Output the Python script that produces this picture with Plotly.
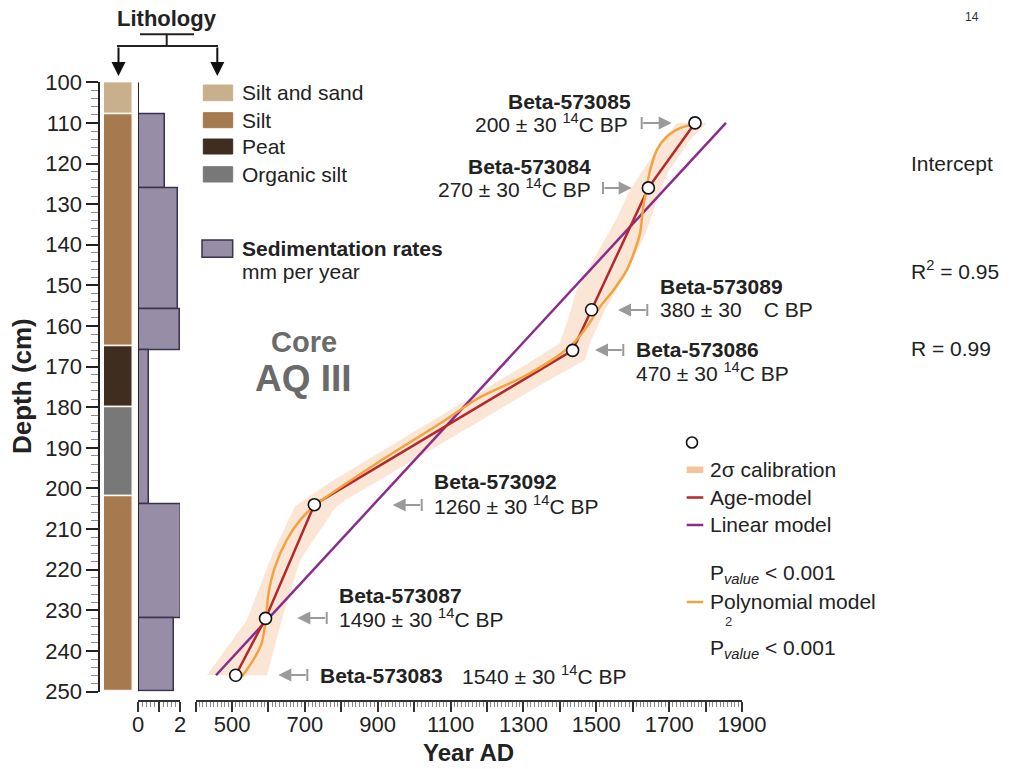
import plotly.graph_objects as go

# ---------------- DATA ----------------
litho_names = ["Silt and sand", "Silt", "Peat", "Organic silt", "Silt"]
litho_top = [100, 108, 165, 180, 202]
litho_bottom = [108, 165, 180, 202, 250]
litho_colors = ["#C9B08C", "#A6794E", "#3F2D20", "#787878", "#A6794E"]

sed_top = [108, 126, 156, 166, 204, 232]
sed_bottom = [126, 156, 166, 204, 232, 250]
sed_rate = [1.3, 1.9, 2.0, 0.5, 2.05, 1.7]

lab_ids = ["Beta-573085", "Beta-573084", "Beta-573089", "Beta-573086",
           "Beta-573092", "Beta-573087", "Beta-573083"]
age_bp = [200, 270, 380, 470, 1260, 1490, 1540]
age_err = [30, 30, 30, 30, 30, 30, 30]
date_depth = [110, 126, 156, 166, 204, 232, 246]
date_year = [1771, 1643, 1487, 1435, 726, 592, 510]

linear_year = [456, 1856]
linear_depth = [246, 110]

poly_year = [527, 558, 581, 593, 600, 618, 650, 687, 726, 906, 1071, 1176, 1300,
             1391, 1437, 1474, 1510, 1547, 1584, 1606, 1620, 1629, 1638, 1648,
             1666, 1693, 1730, 1766]
poly_depth = [246.4, 242.3, 238.2, 232.2, 225.9, 219.3, 212.7, 207.8, 204.3, 193.3,
              184.0, 177.8, 172.5, 167.6, 164.3, 160.2, 155.3, 151.2, 146.2, 141.3,
              137.2, 130.6, 126.1, 121.6, 116.7, 113.4, 111.3, 110.3]

band_year = [431, 541, 612, 673, 769, 961, 1153, 1345, 1400, 1422, 1444, 1488, 1551,
             1592, 1647, 1721, 1804, 1757, 1697, 1667, 1634, 1579, 1524, 1483, 1469,
             1345, 1153, 961, 810, 783, 687, 637, 596]
band_depth = [246.0, 232.4, 215.9, 204.4, 198.5, 188.1, 177.8, 167.4, 164.2, 158.5,
              151.7, 144.3, 134.4, 126.5, 119.1, 110.0, 110.0, 114.2, 122.1, 129.0,
              137.6, 147.5, 156.1, 164.0, 168.4, 174.6, 184.9, 195.0, 202.9, 204.8,
              217.6, 232.2, 246.0]

depth_ticks = list(range(100, 251, 10))
year_ticks = list(range(400, 1901, 100))
year_labels = [str(v) if (v - 500) % 200 == 0 else "" for v in year_ticks]

# ---------------- LAYOUT HELPERS ----------------
W, H = 1010, 769
FONT = "Arial, Liberation Sans, sans-serif"
TXT = "#222222"
PURPLE = "#8B2C8C"
RED = "#B3282D"
ORANGE = "#F2A23E"
BAND = "rgba(248,210,180,0.55)"
GRAYARROW = "#9A9A9A"


def px(x):
    return x / W


def py(y):
    return 1 - y / H


fig = go.Figure()

# lithology column
fig.add_trace(go.Bar(
    x=[0.5] * len(litho_top),
    y=[b - t for t, b in zip(litho_top, litho_bottom)],
    base=litho_top, width=1,
    marker=dict(color=litho_colors, line=dict(color="#FFF8F0", width=1.5)),
    xaxis="x3", yaxis="y", hoverinfo="skip"))

# sedimentation rates
fig.add_trace(go.Bar(
    y=[(t + b) / 2 for t, b in zip(sed_top, sed_bottom)],
    x=sed_rate, width=[b - t for t, b in zip(sed_top, sed_bottom)],
    base=0, orientation="h",
    marker=dict(color="#978DA6", line=dict(color="#3B3150", width=1.5)),
    xaxis="x2", yaxis="y", hoverinfo="skip"))

# 2 sigma calibration band
fig.add_trace(go.Scatter(x=band_year, y=band_depth, fill="toself", fillcolor=BAND,
                         line=dict(width=0), mode="lines", xaxis="x", yaxis="y",
                         hoverinfo="skip"))
# linear model
fig.add_trace(go.Scatter(x=linear_year, y=linear_depth, mode="lines",
                         line=dict(color=PURPLE, width=2.5), xaxis="x", yaxis="y"))
# age model
fig.add_trace(go.Scatter(x=date_year, y=date_depth, mode="lines",
                         line=dict(color=RED, width=2.5), xaxis="x", yaxis="y"))
# polynomial model
fig.add_trace(go.Scatter(x=poly_year, y=poly_depth, mode="lines",
                         line=dict(color=ORANGE, width=2.5, shape="spline", smoothing=0.8),
                         xaxis="x", yaxis="y"))
# dates
fig.add_trace(go.Scatter(x=date_year, y=date_depth, mode="markers",
                         marker=dict(size=12, color="white", line=dict(color="#111", width=1.6)),
                         xaxis="x", yaxis="y", cliponaxis=False))

tickfont = dict(family=FONT, size=22, color=TXT)

fig.update_layout(
    template="none",
    width=W, height=H, autosize=False,
    margin=dict(l=0, r=0, t=0, b=0, pad=0, autoexpand=False),
    paper_bgcolor="white", plot_bgcolor="rgba(0,0,0,0)",
    showlegend=False, barmode="overlay", bargap=0,
    font=dict(family=FONT, color=TXT),
    yaxis=dict(domain=[py(691.5), py(82.3)], range=[250, 100], anchor="free",
               position=px(99.3), showline=True, linecolor="#222", linewidth=2,
               automargin=False,
               ticks="outside", tickvals=depth_ticks, ticklen=12, tickwidth=2,
               tickcolor="#222", tickfont=tickfont, showgrid=False, zeroline=False,
               minor=dict(ticks="outside", dtick=2, ticklen=7, tickcolor="#8a8a8a",
                          tickwidth=1, showgrid=False)),
    xaxis=dict(domain=[px(195.6), px(742)], range=[400, 1900], anchor="free",
               position=py(701), showline=True, linecolor="#333", linewidth=1.5,
               automargin=False, ticklabelstandoff=-6,
               ticks="outside", tickvals=year_ticks, ticktext=year_labels, ticklen=10,
               tickwidth=1.5, tickcolor="#333", tickfont=tickfont, showgrid=False,
               zeroline=False,
               minor=dict(ticks="outside", dtick=10, ticklen=5, tickcolor="#888",
                          tickwidth=1, showgrid=False)),
    xaxis2=dict(domain=[px(138), px(180)], range=[0, 2], anchor="free",
                position=py(701), showline=True, linecolor="#333", linewidth=1.5,
                automargin=False, ticklabelstandoff=-6,
                ticks="outside", tickvals=[0, 1, 2], ticktext=["0", "", "2"],
                ticklen=10, tickwidth=1.5, tickcolor="#333", tickfont=tickfont,
                showgrid=False, zeroline=False,
                minor=dict(ticks="outside", dtick=0.2, ticklen=5, tickcolor="#888",
                           tickwidth=1, showgrid=False)),
    xaxis3=dict(domain=[px(104), px(133)], range=[0, 1], anchor="free",
                position=py(701), visible=False, automargin=False),
)

shapes = []
annots = []

# sed panel left line
shapes.append(dict(type="line", xref="x2", yref="y", x0=0, x1=0, y0=100, y1=250,
                   line=dict(color="#222", width=2)))


def text(x, y, s, size=21, anchor="left", color=TXT, **kw):
    annots.append(dict(x=px(x), y=py(y), xref="paper", yref="paper", text=s,
                       showarrow=False, xanchor=anchor, yanchor="middle",
                       font=dict(family=FONT, size=size, color=color), **kw))


def hline(x0, x1, y, color="#222", width=2):
    shapes.append(dict(type="line", xref="paper", yref="paper", x0=px(x0), x1=px(x1),
                       y0=py(y), y1=py(y), line=dict(color=color, width=width)))


def vline(x, y0, y1, color="#222", width=2):
    shapes.append(dict(type="line", xref="paper", yref="paper", x0=px(x), x1=px(x),
                       y0=py(y0), y1=py(y1), line=dict(color=color, width=width)))


def arrow(tail, tip, y):
    annots.append(dict(x=px(tip), y=py(y), xref="paper", yref="paper", text="",
                       showarrow=True, ax=tail - tip, ay=0, axref="pixel", ayref="pixel",
                       arrowhead=2, arrowsize=1.3, arrowwidth=2, arrowcolor=GRAYARROW,
                       standoff=0))
    vline(tail, y - 6, y + 6, color=GRAYARROW, width=2)


# Lithology header + bracket
text(167, 18, "<b>Lithology</b>", size=22, anchor="center")
hline(140, 194, 34.3)
vline(166.7, 34.3, 46)
hline(117, 218, 46)
for xa in (118.5, 217.3):
    annots.append(dict(x=px(xa), y=py(76), xref="paper", yref="paper", text="",
                       showarrow=True, ax=0, ay=-30, arrowhead=2, arrowsize=1.4,
                       arrowwidth=2, arrowcolor="#111", standoff=0))

# lithology legend
leg_rows = [(85, 100.7), (112.7, 127.7), (139, 154), (166.7, 182)]
for (y0, y1), name, col in zip(leg_rows, litho_names[:4], litho_colors[:4]):
    shapes.append(dict(type="rect", xref="paper", yref="paper", x0=px(203.3), x1=px(232.7),
                       y0=py(y1), y1=py(y0), fillcolor=col, line=dict(color=col, width=1)))
    text(239.5, (y0 + y1) / 2, name, size=21)
shapes.append(dict(type="rect", xref="paper", yref="paper", x0=px(202), x1=px(232.7),
                   y0=py(257.3), y1=py(240), fillcolor="#978DA6",
                   line=dict(color="#3B3150", width=1.5)))
text(239.5, 249, "<b>Sedimentation rates</b>", size=21)
text(239.5, 271, "mm per year", size=21)

# Core label
text(304, 342, "<b>Core</b>", size=29, anchor="center", color="#6A6A6A")
text(303, 378, "<b>AQ III</b>", size=37, anchor="center", color="#6A6A6A")

# Axis titles
annots.append(dict(x=px(22), y=py(386), xref="paper", yref="paper",
                   text="<b>Depth (cm)</b>", showarrow=False, textangle=-90,
                   xanchor="center", yanchor="middle",
                   font=dict(family=FONT, size=26, color=TXT)))
text(468, 752, "<b>Year AD</b>", size=24, anchor="center")

# date labels
hidden14 = "<sup><span style='color:rgba(0,0,0,0)'>14</span></sup>"


def age_text(i, hide=False):
    sup = hidden14 if hide else "<sup>14</sup>"
    return f"{age_bp[i]} ± {age_err[i]} {sup}C BP"


label_pos = [
    # (bold x, bold y, anchor, age x, age y, tail, tip, arrow y)
    (633, 101.7, "right", 630, 123.3, 641.7, 671.7, 123),
    (593, 166.7, "right", 593, 188.3, 603, 631.7, 188),
    (658.3, 286.7, "left", 658.3, 308.3, 647.3, 618, 310),
    (634, 349.3, "left", 634, 371.7, 623.3, 595, 350),
    (431.7, 481.7, "left", 431.7, 505, 421.7, 392.7, 505),
    (337.3, 595, "left", 337.3, 618.3, 326.7, 297.3, 618),
    (318.3, 675, "left", 460, 675, 307.3, 278.3, 675),
]
for i, (bx, by, anc, tx, ty, tail, tip, ay) in enumerate(label_pos):
    text(bx, by, f"<b>{lab_ids[i]}</b>", size=21, anchor=anc)
    text(tx, ty, age_text(i, hide=(i == 2)), size=21, anchor=anc)
    arrow(tail, tip, ay)

# stray superscript
text(972, 17, "14", size=12, anchor="center", color="#333")

# right side stats
text(909, 163, "Intercept", size=21)
text(909, 270, "R<sup>2</sup> = 0.95", size=21)
text(909, 349, "R = 0.99", size=21)

# model legend
shapes.append(dict(type="circle", xref="paper", yref="paper", x0=px(686.5), x1=px(697.5),
                   y0=py(448), y1=py(437), fillcolor="white",
                   line=dict(color="#111", width=1.6)))
shapes.append(dict(type="rect", xref="paper", yref="paper", x0=px(686.7), x1=px(703.3),
                   y0=py(473), y1=py(466.5), fillcolor="#F5C497", line=dict(width=0)))
text(708, 469.5, "2σ calibration", size=21)
hline(686.7, 703.3, 497.5, color=RED, width=2.5)
text(708, 497, "Age-model", size=21)
hline(686.7, 703.3, 525, color=PURPLE, width=2.5)
text(708, 524, "Linear model", size=21)
pval = "P<sub><i>value</i></sub> &lt; 0.001"
text(708, 574, pval, size=21)
hline(686.7, 703.3, 602, color=ORANGE, width=2.5)
text(708, 601, "Polynomial model", size=21)
text(728, 621, "2", size=13, anchor="center", color="#333")
text(708, 649, pval, size=21)

fig.update_layout(shapes=shapes, annotations=annots)
fig.write_html("out.html",
               config={"displayModeBar": False},
               post_script="document.body.style.margin='0px';"
                           "document.body.style.padding='0px';"
                           "document.body.style.overflow='hidden';")
